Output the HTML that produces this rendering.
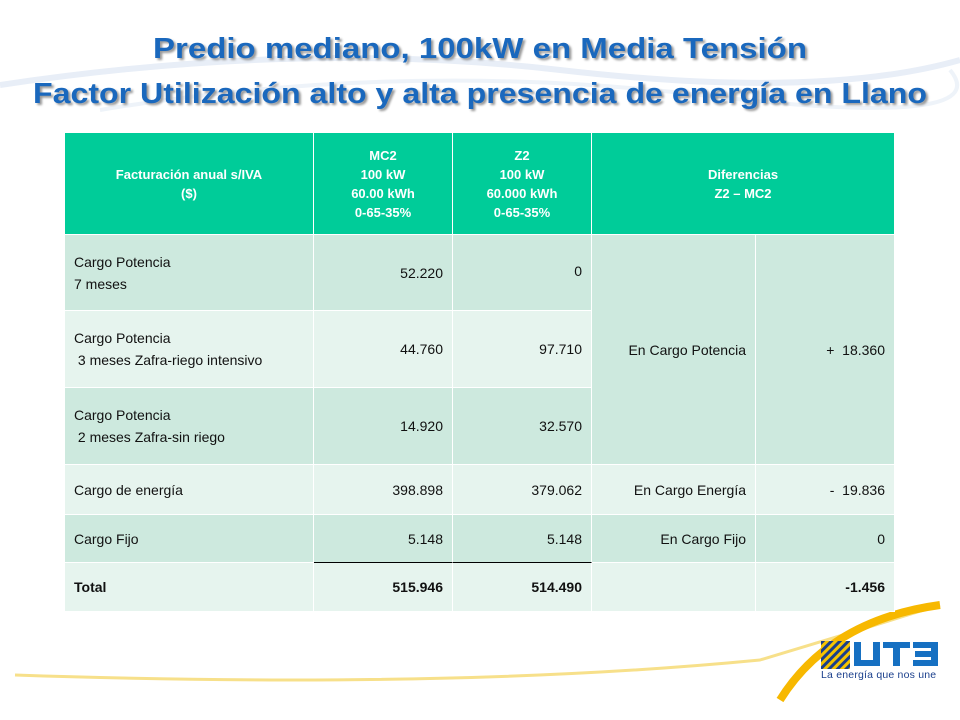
<!DOCTYPE html>
<html><head><meta charset="utf-8"><style>
body{margin:0;width:960px;height:720px;background:#fff;position:relative;overflow:hidden;font-family:"Liberation Sans",sans-serif}
.c{position:absolute;box-sizing:border-box;border-right:1px solid #fff;border-bottom:1px solid #fff;font-size:14px;color:#111;display:flex;align-items:center;line-height:22px;padding:0 9px}
.h{background:#00cc99;color:#fff;font-weight:bold;font-size:13px;justify-content:center;text-align:center;line-height:19px}
.d{background:#cde9de}.l{background:#e6f4ee}
.r{justify-content:flex-end}.ce{justify-content:center;text-align:center}
.b{font-weight:bold}
</style></head><body>
<svg width="960" height="720" style="position:absolute;left:0;top:0">
<path d="M0 85 Q300 40 560 70 T960 60" stroke="#e8eef7" stroke-width="6" fill="none"/>
<path d="M100 110 Q400 60 700 95 T950 70" stroke="#eef3f9" stroke-width="4" fill="none"/>
<path d="M15 675 Q450 690 760 660 Q860 630 940 605" stroke="#f7e08a" stroke-width="3" fill="none"/>
<path d="M780 700 Q830 620 940 605" stroke="#f7b800" stroke-width="8" fill="none"/>
<text x="480" y="58" text-anchor="middle" font-family="Liberation Sans,sans-serif" font-weight="bold" font-size="29" fill="#1a68bd" textLength="654" lengthAdjust="spacingAndGlyphs" style="text-shadow:2px 2px 2px #999">Predio mediano, 100kW en Media Tensión</text>
<text x="480" y="103" text-anchor="middle" font-family="Liberation Sans,sans-serif" font-weight="bold" font-size="29" fill="#1a68bd" textLength="894" lengthAdjust="spacingAndGlyphs" style="text-shadow:2px 2px 2px #999">Factor Utilización alto y alta presencia de energía en Llano</text>
</svg>
<div>
<div class="c h" style="left:65px;top:133px;width:249px;height:102px">Facturación anual s/IVA<br>($)</div>
<div class="c h" style="left:314px;top:133px;width:139px;height:102px">MC2<br>100 kW<br>60.00 kWh<br>0-65-35%</div>
<div class="c h" style="left:453px;top:133px;width:139px;height:102px">Z2<br>100 kW<br>60.000 kWh<br>0-65-35%</div>
<div class="c h" style="left:592px;top:133px;width:303px;height:102px">Diferencias<br>Z2 – MC2</div>

<div class="c d" style="left:65px;top:235px;width:249px;height:76px">Cargo Potencia<br>7 meses</div>
<div class="c d r" style="left:314px;top:235px;width:139px;height:76px">52.220</div>
<div class="c d r" style="left:453px;top:235px;width:139px;height:76px;align-items:flex-start;padding-top:25px">0</div>

<div class="c l" style="left:65px;top:311px;width:249px;height:77px">Cargo Potencia<br>&nbsp;3 meses Zafra-riego intensivo</div>
<div class="c l r" style="left:314px;top:311px;width:139px;height:77px">44.760</div>
<div class="c l r" style="left:453px;top:311px;width:139px;height:77px">97.710</div>

<div class="c d" style="left:65px;top:388px;width:249px;height:77px">Cargo Potencia<br>&nbsp;2 meses Zafra-sin riego</div>
<div class="c d r" style="left:314px;top:388px;width:139px;height:77px">14.920</div>
<div class="c d r" style="left:453px;top:388px;width:139px;height:77px">32.570</div>

<div class="c d r" style="left:592px;top:235px;width:164px;height:230px">En Cargo Potencia</div>
<div class="c d r" style="left:756px;top:235px;width:139px;height:230px">+ &nbsp;18.360</div>

<div class="c l" style="left:65px;top:465px;width:249px;height:50px">Cargo de energía</div>
<div class="c l r" style="left:314px;top:465px;width:139px;height:50px">398.898</div>
<div class="c l r" style="left:453px;top:465px;width:139px;height:50px">379.062</div>
<div class="c l r" style="left:592px;top:465px;width:164px;height:50px">En Cargo Energía</div>
<div class="c l r" style="left:756px;top:465px;width:139px;height:50px">- &nbsp;19.836</div>

<div class="c d" style="left:65px;top:515px;width:249px;height:48px">Cargo Fijo</div>
<div class="c d r" style="left:314px;top:515px;width:139px;height:48px;border-bottom:1px solid #000">5.148</div>
<div class="c d r" style="left:453px;top:515px;width:139px;height:48px;border-bottom:1px solid #000">5.148</div>
<div class="c d r" style="left:592px;top:515px;width:164px;height:48px">En Cargo Fijo</div>
<div class="c d r" style="left:756px;top:515px;width:139px;height:48px">0</div>

<div class="c l b" style="left:65px;top:563px;width:249px;height:49px">Total</div>
<div class="c l r b" style="left:314px;top:563px;width:139px;height:49px">515.946</div>
<div class="c l r b" style="left:453px;top:563px;width:139px;height:49px">514.490</div>
<div class="c l" style="left:592px;top:563px;width:164px;height:49px"></div>
<div class="c l r b" style="left:756px;top:563px;width:139px;height:49px">-1.456</div>
</div>
<div style="position:absolute;left:821px;top:641px">
<svg width="118" height="40">
<defs><pattern id="st" width="6" height="6" patternUnits="userSpaceOnUse" patternTransform="rotate(45)"><rect width="6" height="6" fill="#f5c400"/><rect width="3" height="6" fill="#1a3f8c"/></pattern></defs>
<rect x="0" y="0" width="29" height="28" fill="url(#st)"/>
<path d="M33 1 v24 h26 v-24 h-7 v18 h-12 v-18z" fill="#1670c2"/>
<path d="M62 1 h27 v6 h-10 v18 h-7 v-18 h-10z" fill="#1670c2"/>
<path d="M92 1 h25 v24 h-25 v-6 h18 v-3 h-16 v-6 h16 v-3 h-18z" fill="#1670c2"/>
</svg>
<div style="position:absolute;left:0;top:28px;font-size:10.5px;color:#1a3f8c;white-space:nowrap;letter-spacing:0.2px">La energía que nos une</div>
</div>
</body></html>
